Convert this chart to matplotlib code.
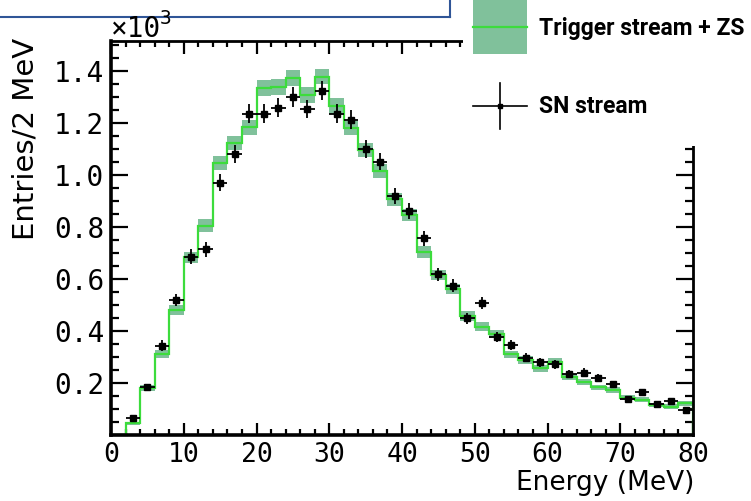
import numpy as np
import matplotlib
matplotlib.use("Agg")
import matplotlib.pyplot as plt
from matplotlib.patches import Rectangle
from matplotlib.lines import Line2D
from matplotlib.ticker import MultipleLocator, FuncFormatter

# ---- data (entries per 2 MeV bin) ----
bin_edges = np.arange(0, 82, 2)  # 0..80 MeV
trigger_zs = [0, 45, 182, 311, 481, 683, 805, 1047, 1122, 1183,
              1335, 1337, 1372, 1308, 1378, 1265, 1180, 1096, 1016, 906,
              846, 704, 615, 560, 458, 417, 388, 310, 288, 256,
              282, 224, 205, 183, 173, 144, 135, 115, 109, 122]
trigger_err = [0, 6, 11, 14, 18, 22, 24, 27, 27, 28,
               30, 30, 30, 30, 30, 29, 28, 27, 26, 25,
               24, 22, 20, 19, 18, 17, 16, 14, 14, 13,
               14, 12, 12, 11, 11, 10, 10, 9, 9, 9]
sn_centers = [3, 5, 7, 9, 11, 13, 15, 17, 19, 21,
              23, 25, 27, 29, 31, 33, 35, 37, 39, 41,
              43, 45, 47, 49, 51, 53, 55, 57, 59, 61,
              63, 65, 67, 69, 71, 73, 75, 77, 79]
sn_stream = [64, 183, 344, 519, 686, 714, 970, 1080, 1235, 1235,
             1259, 1300, 1253, 1324, 1235, 1212, 1099, 1051, 918, 862,
             756, 618, 573, 449, 506, 376, 346, 297, 279, 272,
             235, 240, 221, 195, 137, 165, 118, 132, 96]
sn_err = [9, 15, 20, 24, 28, 28, 33, 34, 36, 36,
          36, 37, 36, 37, 36, 36, 34, 33, 31, 30,
          28, 26, 25, 22, 23, 20, 19, 18, 17, 17,
          16, 16, 15, 14, 12, 13, 11, 12, 10]

scale = 1e-3
band_color = "#80c19b"
line_color = "#3cdc3c"

W, H = 751, 501
fig = plt.figure(figsize=(W / 100, H / 100), dpi=100)

def fx(px):
    return px / W

def fy(py):
    return 1 - py / H

ax = fig.add_axes([fx(111), fy(435), fx(693) - fx(111), fy(41) - fy(435)])

vals = np.array(trigger_zs) * scale
errs = np.array(trigger_err) * scale
xs = np.repeat(bin_edges, 2)[1:-1]
lo = np.repeat(vals - errs, 2)
hi = np.repeat(vals + errs, 2)
ax.fill_between(xs, lo, hi, color=band_color, lw=0, zorder=1)
ax.stairs(vals, bin_edges, color=line_color, lw=1.6, zorder=2)

ax.errorbar(sn_centers, np.array(sn_stream) * scale, xerr=1.0,
            yerr=np.array(sn_err) * scale, fmt='s', ms=4.5, color='black',
            ecolor='black', elinewidth=1.3, capsize=0, zorder=3)

ax.set_xlim(0, 80)
ax.set_ylim(0, 1.515)
ax.xaxis.set_major_locator(MultipleLocator(10))
ax.xaxis.set_minor_locator(MultipleLocator(2))
ax.yaxis.set_major_locator(MultipleLocator(0.2))
ax.yaxis.set_minor_locator(MultipleLocator(0.05))
ax.yaxis.set_major_formatter(FuncFormatter(lambda v, p: "" if abs(v) < 1e-9 else f"{v:.1f}"))
ax.xaxis.set_major_formatter(FuncFormatter(lambda v, p: f"{v:.0f}"))

mono = "DejaVu Sans Mono"
ax.tick_params(axis='both', which='both', direction='in', top=True, right=True, width=1.6)
ax.tick_params(axis='x', which='major', length=9, pad=5)
ax.tick_params(axis='x', which='minor', length=4.5)
ax.tick_params(axis='y', which='major', length=12, pad=5)
ax.tick_params(axis='y', which='minor', length=6)
for lab in ax.get_xticklabels():
    lab.set_fontfamily(mono)
    lab.set_fontsize(19)
for lab in ax.get_yticklabels():
    lab.set_fontfamily(mono)
    lab.set_fontsize(20)
for s in ax.spines.values():
    s.set_linewidth(2.0)
ax.spines['left'].set_linewidth(2.6)
ax.spines['bottom'].set_linewidth(2.6)

# axis titles
fig.text(fx(26), fy(38), "Entries/2 MeV", rotation=90, ha='center', va='top',
         fontsize=21, family="DejaVu Sans")
fig.text(fx(694), fy(490), "Energy (MeV)", ha='right', va='baseline',
         fontsize=19, family="DejaVu Sans")

# exponent
fig.text(fx(111), fy(37), "×10", ha='left', va='baseline', fontsize=20, family=mono)
fig.text(fx(160), fy(24), "3", ha='left', va='baseline', fontsize=14, family=mono)

# blue frame fragment at top left
fig.add_artist(Line2D([0, fx(450)], [fy(17), fy(17)], color="#2f5597", lw=1.5))
fig.add_artist(Line2D([fx(450), fx(450)], [fy(17), 1.0], color="#2f5597", lw=1.5))

# legend panel (white, covers the top-right of the frame)
lg = fig.add_axes([fx(463), fy(146), fx(751) - fx(463), fy(0) - fy(146)], zorder=5)
lg.set_facecolor('white')
for s in lg.spines.values():
    s.set_visible(False)
lg.set_xticks([])
lg.set_yticks([])
lg.set_xlim(0, 288)
lg.set_ylim(146, 0)
lg.add_patch(Rectangle((10, 0), 54, 54, color=band_color, lw=0))
lg.plot([10, 64], [27, 27], color=line_color, lw=1.6)
lg.text(76, 28, "Trigger stream + ZS", ha='left', va='center', fontsize=16.5,
        family="Roboto", fontweight='bold')
lg.plot([10, 64], [106, 106], color='black', lw=1.2)
lg.plot([37, 37], [83, 129], color='black', lw=1.2)
lg.plot([37], [106], 's', color='black', ms=3.5)
lg.text(76, 107, "SN stream", ha='left', va='center', fontsize=16.5,
        family="Roboto", fontweight='bold')

fig.savefig("out.png", dpi=100)
